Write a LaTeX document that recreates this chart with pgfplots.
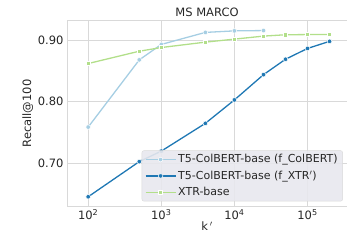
\documentclass[border=0pt]{standalone}
\usepackage{fontspec}
\setmainfont{DejaVu Sans}
\usepackage{pgfplots}
\pgfplotsset{compat=1.18}
\definecolor{cLB}{HTML}{A6CEE3}
\definecolor{cDB}{HTML}{1F78B4}
\definecolor{cGR}{HTML}{B2DF8A}
\definecolor{txt}{HTML}{262626}
\definecolor{gridc}{HTML}{D9D9D9}
\definecolor{legbg}{HTML}{E8E8EE}
\begin{document}
\begin{tikzpicture}[font=\fontsize{11.5bp}{13bp}\selectfont, text=txt]
\begin{axis}[
  at={(0,0)}, anchor=south west,
  scale only axis,
  width=280bp, height=185bp,
  xmode=log,
  xmin=51.3, xmax=346700,
  ymin=0.631, ymax=0.931,
  xtick={100,1000,10000,100000},
  xticklabels={10\textsuperscript{2},10\textsuperscript{3},10\textsuperscript{4},10\textsuperscript{5}},
  ytick={0.70,0.80,0.90},
  yticklabel style={/pgf/number format/.cd,fixed,fixed zerofill,precision=2,assume math mode=true},
  scaled y ticks=false,
  minor tick num=0,
  minor xtick={},
  log basis x=10,
  tick style={draw=none},
  major tick length=0pt,
  grid=major,
  major grid style={gridc, line width=1bp},
  axis line style={gridc, line width=1bp},
  title={MS MARCO},
  title style={font=\fontsize{11.5bp}{13bp}\selectfont, yshift=-5bp},
  xlabel={k\,$'$},
  ylabel={Recall@100},
  xlabel style={yshift=5bp},
  ylabel style={yshift=-2bp},
  legend style={at={(0.985,0.025)}, anchor=south east, fill=legbg, fill opacity=0.9, text opacity=1, draw=gridc, rounded corners=2bp, font=\fontsize{11bp}{13bp}\selectfont, row sep=2.5bp, inner xsep=3bp, inner ysep=2bp},
  legend cell align=left,
  legend image code/.code={\draw[mark=none] (0bp,0bp) -- (30bp,0bp); \draw plot[only marks] coordinates {(15bp,0bp)};},
  every axis plot/.append style={line width=1.3bp},
]
\addplot[cLB, mark=*, mark size=2.3bp, mark options={draw=white, line width=0.5bp, fill=cLB}] coordinates {
(100,0.759) (500,0.868) (1000,0.893) (4000,0.9125) (10000,0.915) (25000,0.9155)};
\addlegendentry{T5-ColBERT-base (f\_ColBERT)}
\addplot[cDB, mark=*, mark size=2.3bp, mark options={draw=white, line width=0.5bp, fill=cDB}] coordinates {
(100,0.646) (500,0.703) (1000,0.720) (4000,0.765) (10000,0.803) (25000,0.844) (50000,0.869) (100000,0.8865) (200000,0.898)};
\addlegendentry{T5-ColBERT-base (f\_XTR$'$)}
\addplot[cGR, mark=square*, mark size=2.1bp, mark options={draw=white, line width=0.5bp, fill=cGR}] coordinates {
(100,0.862) (500,0.882) (1000,0.888) (4000,0.8967) (10000,0.9016) (25000,0.9065) (50000,0.9087) (100000,0.909) (200000,0.909)};
\addlegendentry{XTR-base}
\end{axis}
\pgfresetboundingbox
\path[use as bounding box] (-67bp,-36bp) rectangle (280bp,206bp);
\end{tikzpicture}
\end{document}
